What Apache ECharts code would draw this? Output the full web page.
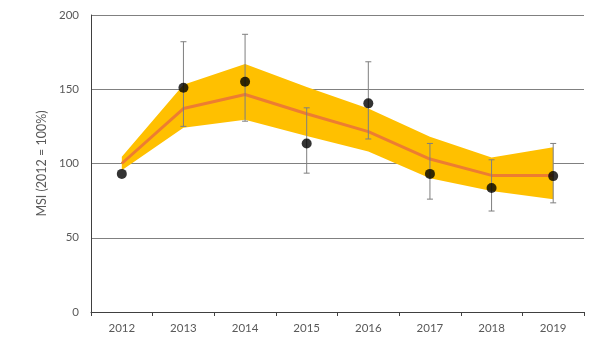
<!DOCTYPE html>
<html>
<head>
<meta charset="utf-8">
<script src="https://cdn.jsdelivr.net/npm/echarts@6/dist/echarts.min.js"></script>
<style>
  html, body { margin: 0; padding: 0; background: #fff; }
  #container { width: 600px; height: 353px; }
</style>
</head>
<body>
<div id="container"></div>
<script>
var years = ["2012", "2013", "2014", "2015", "2016", "2017", "2018", "2019"];
var trend = [100, 137, 146.5, 133.5, 121.5, 103, 92, 92];
var bandLower = [95.5, 124, 129.5, 118.5, 108, 90, 81.5, 76];
var bandUpper = [104.5, 153, 167, 151.5, 137, 118, 104, 111];
var msi = [93, 151, 155, 113.5, 140.5, 93, 83.5, 91.5];
var errLow = [null, 125, 128.5, 93.5, 116.5, 76, 68, 73.5];
var errHigh = [null, 182, 187, 137.5, 168.5, 113.5, 102.5, 113.5];

var bandWidth = bandUpper.map(function (v, i) { return v - bandLower[i]; });
var errData = [];
years.forEach(function (y, i) {
  if (errLow[i] != null) errData.push([i, errLow[i], errHigh[i]]);
});

var dom = document.getElementById("container");
var myChart = echarts.init(dom, null, { renderer: "canvas" });

var textColor = "#595959";
var fontFamily = "Lato, 'Open Sans', sans-serif";

var option = {
  animation: false,
  grid: { left: 91, right: 16, top: 15, bottom: 41 },
  xAxis: {
    type: "category",
    data: years,
    boundaryGap: true,
    axisLine: { lineStyle: { color: "#404040", width: 1 } },
    axisTick: { show: true, length: 4, lineStyle: { color: "#404040" } },
    axisLabel: { color: textColor, fontSize: 11.5, fontFamily: fontFamily, margin: 10 },
  },
  yAxis: {
    type: "value",
    min: 0,
    max: 200,
    interval: 50,
    name: "MSI (2012 = 100%)",
    nameLocation: "middle",
    nameGap: 41,
    nameTextStyle: { color: textColor, fontSize: 12.5, fontFamily: fontFamily },
    axisLine: { show: true, lineStyle: { color: "#404040", width: 1 } },
    axisTick: { show: false },
    axisLabel: { color: textColor, fontSize: 11.5, fontFamily: fontFamily, margin: 12 },
    splitLine: { lineStyle: { color: "#808080", width: 1 } },
  },
  series: [
    {
      name: "lower",
      type: "line",
      stack: "band",
      data: bandLower,
      symbol: "none",
      lineStyle: { opacity: 0 },
      silent: true,
    },
    {
      name: "band",
      type: "line",
      stack: "band",
      data: bandWidth,
      symbol: "none",
      lineStyle: { opacity: 0 },
      areaStyle: { color: "#FFC000", opacity: 1 },
      silent: true,
    },
    {
      name: "trend",
      type: "line",
      data: trend,
      symbol: "none",
      lineStyle: { color: "#ED7D31", width: 3 },
    },
    {
      name: "errors",
      type: "custom",
      data: errData,
      z: 5,
      renderItem: function (params, api) {
        var x = api.coord([api.value(0), api.value(1)])[0];
        var lo = api.coord([api.value(0), api.value(1)])[1];
        var hi = api.coord([api.value(0), api.value(2)])[1];
        var cap = 3;
        var style = { stroke: "#7f7f7f", lineWidth: 1 };
        return {
          type: "group",
          children: [
            { type: "line", shape: { x1: x, y1: lo, x2: x, y2: hi }, style: style },
            { type: "line", shape: { x1: x - cap, y1: lo, x2: x + cap, y2: lo }, style: style },
            { type: "line", shape: { x1: x - cap, y1: hi, x2: x + cap, y2: hi }, style: style },
          ],
        };
      },
    },
    {
      name: "MSI",
      type: "scatter",
      data: msi,
      symbol: "circle",
      symbolSize: 10,
      itemStyle: { color: "#000" },
      z: 6,
    },
  ],
};

myChart.setOption(option);
window.addEventListener("resize", myChart.resize);
</script>
</body>
</html>
